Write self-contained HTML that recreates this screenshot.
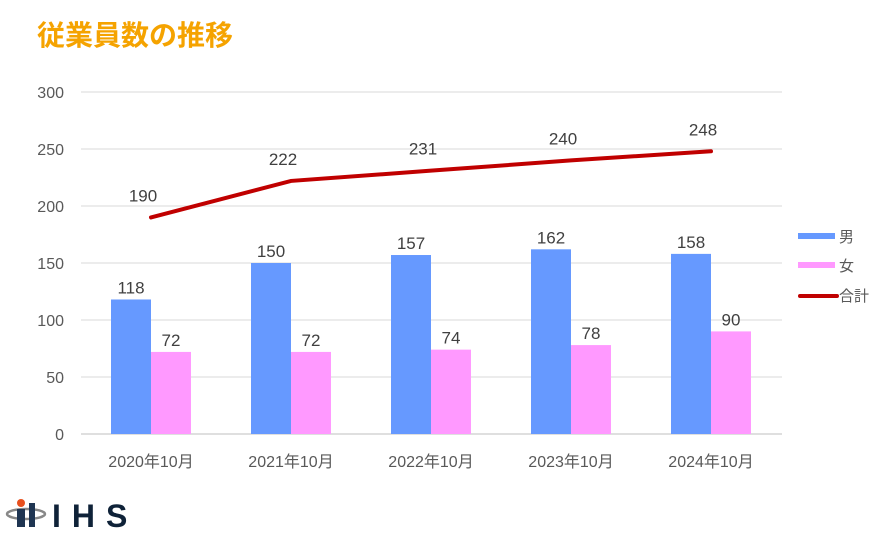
<!DOCTYPE html>
<html><head><meta charset="utf-8"><style>
body{margin:0;background:#fff;width:882px;height:534px;overflow:hidden;font-family:"Liberation Sans","Noto Sans CJK JP",sans-serif}
</style></head><body>
<svg width="882" height="534" font-family="Liberation Sans, Noto Sans CJK JP, sans-serif">
<text x="37" y="45" font-size="28" font-weight="bold" fill="#f5a300">従業員数の推移</text>
<g id="grid"></g><g id="bars"></g><g id="line"></g><g id="labels"></g>
<g>
<rect x="798" y="233" width="37" height="6" fill="#6699ff"/>
<text x="839" y="242" font-size="15" fill="#595959">男</text>
<rect x="798" y="262" width="37" height="6" fill="#ff99ff"/>
<text x="839" y="271" font-size="15" fill="#595959">女</text>
<line x1="800" y1="296" x2="837" y2="296" stroke="#c00000" stroke-width="4" stroke-linecap="round"/>
<text x="839" y="301" font-size="15" fill="#595959">合計</text>
</g>
<g>
<ellipse cx="26" cy="514" rx="19" ry="5" fill="none" stroke="#888" stroke-width="2.5"/>
<circle cx="21" cy="503" r="4" fill="#e8501e"/>
<rect x="17" y="509" width="8" height="18" fill="#1f3552"/>
<rect x="29" y="503" width="6" height="24" fill="#1f3552"/>
<text x="52" y="527" font-size="32" font-weight="bold" fill="#0f2238" letter-spacing="11">IHS</text>
</g>
</svg>
<script>
const categories=["2020年10月","2021年10月","2022年10月","2023年10月","2024年10月"];
const male=[118,150,157,162,158];
const female=[72,72,74,78,90];
const total=[190,222,231,240,248];
const yTicks=[0,50,100,150,200,250,300];
const NS="http://www.w3.org/2000/svg";
const y0=434,yScale=342/300,x0=81,band=140;
const Y=v=>y0-v*yScale, X=i=>x0+band*i+band/2;
function mk(t,a,p){const e=document.createElementNS(NS,t);for(const k in a)e.setAttribute(k,a[k]);document.getElementById(p).appendChild(e);return e;}
yTicks.forEach(v=>{
 const l=mk('line',{x1:81,x2:782,y1:Y(v),y2:Y(v),stroke:v===0?'#bfbfbf':'#d9d9d9','stroke-width':1},'grid');
 
 
 const t=mk('text',{x:64,y:Y(v)+6,'font-size':16,fill:'#595959','text-anchor':'end'},'labels');
 t.textContent=v;
 
 
});
categories.forEach((c,i)=>{
 const t=mk('text',{x:X(i),y:467,'font-size':16,fill:'#595959','text-anchor':'middle'},'labels');
 t.textContent=c;
 
 
 const bm=mk('rect',{x:X(i)-40,y:Y(male[i]),width:40,height:male[i]*yScale,fill:'#6699ff'},'bars');
 
 
 const bf=mk('rect',{x:X(i),y:Y(female[i]),width:40,height:female[i]*yScale,fill:'#ff99ff'},'bars');
 
 
 const lm=mk('text',{x:X(i)-20,y:Y(male[i])-6,'font-size':17,fill:'#404040','text-anchor':'middle'},'labels');
 lm.textContent=male[i];
 
 
 const lf=mk('text',{x:X(i)+20,y:Y(female[i])-6,'font-size':17,fill:'#404040','text-anchor':'middle'},'labels');
 lf.textContent=female[i];
 
 
 const lt=mk('text',{x:X(i)-8,y:Y(total[i])-16,'font-size':17,fill:'#404040','text-anchor':'middle'},'labels');
 lt.textContent=total[i];
 
 
});
const pl=mk('polyline',{points:total.map((v,i)=>X(i)+','+Y(v)).join(' '),fill:'none',stroke:'#c00000','stroke-width':4,'stroke-linecap':'round'},'line');


</script>
</body></html>
